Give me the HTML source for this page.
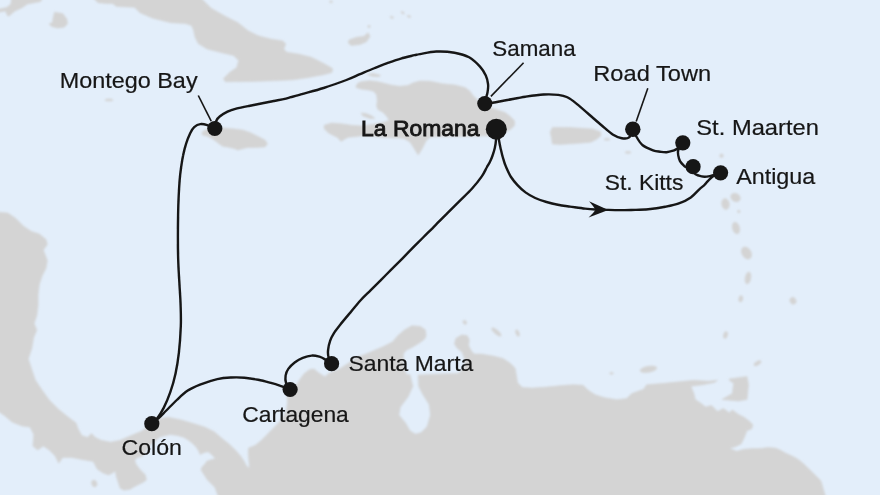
<!DOCTYPE html><html><head><meta charset="utf-8"><style>html,body{margin:0;padding:0;background:#e3eefa;}svg{display:block}</style></head><body>
<svg width="880" height="495" viewBox="0 0 880 495">
<rect width="880" height="495" fill="#e3eefa"/>
<defs><filter id="lb" x="-5%" y="-5%" width="110%" height="110%"><feGaussianBlur stdDeviation="0.8"/></filter></defs>
<g fill="#d4d4d4" stroke="#d4d4d4" stroke-width="0.6" stroke-linejoin="round" filter="url(#lb)">
<path d="M12.3,-6.0 L43.6,-6.0 L40.9,1.4 L38.2,2.0 L27.3,4.1 L22.5,7.5 L15.0,10.9 L8.9,16.1 L7.5,15.7 L5.5,10.9 L-6.0,13.0 L-6.0,10.2 L6.8,7.5 L10.9,4.1Z"/>
<path d="M54.5,12.3 L62.7,13.6 L66.8,19.0 L67.5,23.9 L64.0,27.3 L57.3,28.0 L51.8,26.6 L49.0,23.9 L52.5,22.5 L53.2,17.7Z"/>
<path d="M89.0,-6.0 L98.2,2.7 L107.3,3.6 L112.7,3.6 L116.4,6.4 L134.5,7.3 L140.0,12.7 L152.7,18.2 L170.9,22.7 L185.5,23.6 L191.5,25.5 L193.5,30.0 L195.0,37.0 L198.2,43.6 L207.3,49.1 L221.8,52.7 L233.6,55.5 L238.7,60.5 L236.7,67.5 L229.5,72.6 L223.4,78.7 L225.5,81.8 L252.0,81.4 L272.5,80.8 L293.0,79.8 L307.3,77.7 L323.6,74.7 L331.8,72.6 L332.7,69.0 L331.8,68.0 L323.6,63.4 L311.4,57.3 L299.1,54.2 L286.8,52.2 L283.7,49.1 L285.8,44.0 L282.7,40.9 L270.5,38.9 L258.2,35.8 L248.0,30.7 L237.7,22.5 L225.5,16.4 L211.1,8.2 L196.8,-6.0Z"/>
<path d="M349.0,40.0 L356.4,37.3 L363.6,36.4 L368.2,32.7 L370.0,36.4 L366.4,41.8 L360.0,44.5 L351.0,45.5 L348.2,42.7Z"/>
<path d="M367.0,74.5 L373.0,73.4 L380.5,75.2 L379.0,76.8 L372.0,76.2Z"/>
<path d="M356.0,86.0 L358.2,82.8 L362.4,81.4 L369.5,80.7 L376.6,81.4 L382.2,82.8 L390.7,84.9 L399.2,86.3 L407.7,85.6 L413.4,82.8 L420.0,81.0 L430.0,81.2 L442.5,83.8 L455.0,85.0 L465.0,87.5 L470.0,91.2 L472.5,95.0 L477.5,100.0 L482.5,103.8 L490.0,107.5 L497.5,110.0 L505.0,112.5 L510.0,116.2 L514.6,121.0 L514.6,125.5 L510.7,129.3 L506.8,131.3 L502.5,132.0 L495.0,136.0 L485.0,135.8 L472.5,136.2 L450.0,136.5 L435.0,136.5 L429.5,137.5 L426.0,141.0 L422.0,149.0 L418.2,155.0 L414.5,149.0 L410.0,142.0 L404.0,138.5 L398.6,138.0 L385.0,137.5 L372.5,136.2 L361.0,135.8 L356.8,136.5 L348.3,137.2 L344.0,139.4 L341.2,141.5 L337.0,137.2 L328.5,133.0 L324.2,128.7 L324.2,125.2 L331.3,123.1 L341.2,123.8 L351.1,125.2 L361.0,125.9 L366.7,125.2 L375.0,124.0 L383.0,122.5 L389.3,120.3 L386.5,116.0 L382.2,111.8 L378.0,109.7 L376.6,106.1 L377.3,100.5 L376.6,94.8 L373.7,91.3 L368.1,89.9 L361.0,89.1 L356.0,87.5Z"/>
<path d="M361.0,113.0 L366.0,113.5 L372.0,116.0 L375.0,118.5 L370.0,118.5 L363.0,116.0Z"/>
<path d="M201.9,132.5 L205.0,130.0 L212.5,128.8 L223.8,128.1 L232.5,128.8 L242.5,130.0 L250.0,132.5 L257.5,136.2 L265.0,140.0 L267.5,143.8 L265.0,146.9 L255.0,147.5 L247.5,147.5 L242.5,148.8 L237.5,150.0 L235.0,148.8 L230.0,147.5 L222.5,146.2 L217.5,142.5 L212.5,138.8 L207.5,136.2 L202.5,135.0Z"/>
<path d="M552.4,127.4 L570.0,127.6 L592.3,128.9 L600.4,131.8 L601.1,135.5 L596.7,139.2 L590.8,142.2 L574.5,143.6 L559.8,144.4 L552.4,144.0 L551.5,138.0 L550.2,132.2Z"/>
<path d="M729.3,378.9 L747.0,376.5 L748.5,384.8 L747.0,399.5 L738.2,401.0 L721.9,399.5 L732.3,393.6 L733.7,383.3 L729.3,380.3Z"/>
<path d="M-6.0,211.8 L7.9,213.1 L15.8,218.4 L23.6,226.3 L31.5,231.5 L39.4,234.1 L46.0,239.4 L47.3,244.6 L43.3,249.9 L47.3,260.4 L46.0,268.3 L42.0,276.2 L39.4,284.0 L38.1,294.5 L38.1,305.0 L36.8,315.5 L34.1,323.4 L36.8,330.0 L33.6,337.7 L31.8,348.3 L28.3,358.9 L31.8,369.5 L35.3,380.0 L42.4,390.6 L49.2,400.0 L58.8,409.6 L68.4,417.3 L76.1,423.0 L78.0,428.8 L81.8,435.5 L87.6,437.4 L91.4,433.6 L95.3,437.4 L101.0,440.3 L110.6,442.2 L120.2,440.3 L130.0,436.0 L141.3,431.3 L150.0,425.0 L159.7,418.5 L168.2,417.3 L180.3,419.7 L192.4,423.3 L204.5,427.0 L214.2,431.8 L222.7,439.0 L229.0,444.0 L235.6,450.3 L241.0,456.5 L244.5,462.0 L246.5,466.0 L249.5,468.5 L249.0,462.0 L248.3,454.0 L248.5,448.0 L255.0,445.5 L260.1,441.5 L266.2,435.4 L272.2,429.3 L277.3,424.3 L282.3,418.2 L286.4,410.2 L287.4,403.0 L287.4,395.0 L289.5,390.0 L295.6,386.6 L299.8,379.5 L304.0,373.8 L309.7,369.6 L314.0,368.9 L318.2,372.4 L322.4,375.3 L325.3,376.7 L328.1,373.8 L333.7,371.0 L339.4,369.0 L347.9,363.6 L356.4,357.6 L366.1,353.9 L374.5,350.3 L383.0,346.7 L392.7,341.8 L397.6,335.8 L404.8,329.7 L412.0,325.7 L420.5,326.4 L425.4,329.9 L426.1,335.6 L424.7,338.9 L419.0,343.2 L412.0,347.4 L406.3,350.2 L403.5,353.5 L403.2,360.0 L404.0,368.0 L406.5,374.5 L420.0,375.0 L440.0,374.0 L458.0,373.5 L464.0,368.0 L465.0,360.0 L462.0,352.0 L457.3,348.3 L454.4,344.0 L455.8,338.4 L461.5,334.9 L467.2,335.6 L469.3,339.8 L468.6,345.5 L471.4,351.1 L474.2,354.0 L481.2,354.1 L493.3,356.1 L503.0,358.5 L510.3,363.3 L515.2,368.2 L516.4,375.5 L517.6,382.7 L522.4,387.6 L532.1,388.1 L546.7,387.1 L561.2,385.6 L573.3,384.7 L583.0,385.2 L587.9,390.0 L595.2,394.8 L604.8,397.8 L617.0,399.7 L626.7,398.5 L631.8,393.6 L643.6,389.2 L646.6,384.8 L664.3,383.3 L679.1,381.8 L693.9,380.3 L708.6,381.2 L717.5,380.3 L714.5,382.4 L702.7,384.8 L690.9,386.2 L693.9,393.6 L695.3,399.5 L699.8,402.5 L705.7,406.9 L711.6,405.5 L717.5,411.4 L723.4,408.4 L729.3,412.8 L732.3,409.9 L738.2,414.3 L744.1,417.3 L750.0,421.7 L752.9,424.7 L751.5,429.1 L747.0,430.6 L744.1,437.9 L741.1,443.9 L735.2,446.8 L729.3,448.3 L736.7,451.2 L744.1,449.2 L752.9,448.6 L760.0,448.6 L767.6,447.6 L775.2,448.1 L780.2,450.1 L785.3,453.1 L790.3,455.2 L795.4,457.7 L800.0,460.7 L803.2,463.5 L812.0,471.9 L820.9,480.8 L826.8,501.0 L220.0,501.0 L215.0,487.5 L207.5,480.0 L201.0,470.0 L202.0,467.0 L204.5,464.5 L207.0,461.0 L215.5,458.5 L211.8,454.8 L208.2,451.8 L204.5,452.4 L200.0,454.5 L199.1,451.8 L196.4,447.3 L192.7,443.6 L188.2,440.0 L183.6,437.3 L177.3,435.5 L170.0,434.5 L160.0,437.0 L150.0,445.0 L142.6,456.3 L137.3,457.6 L134.7,460.2 L136.0,464.2 L139.9,469.4 L145.2,474.7 L146.5,479.9 L142.6,482.6 L134.7,486.5 L130.0,489.3 L124.0,490.2 L120.2,488.3 L116.4,476.8 L115.4,471.0 L112.5,472.9 L108.7,474.9 L102.9,472.9 L97.2,469.1 L93.3,461.4 L81.8,459.5 L72.2,457.6 L62.6,457.6 L58.8,463.3 L55.0,455.7 L49.2,449.9 L43.4,446.1 L37.7,449.9 L32.9,446.1 L33.8,434.5 L30.0,427.0 L22.0,426.0 L12.0,422.0 L5.0,416.0 L-6.0,408.3Z"/>
<ellipse cx="331.0" cy="1.8" rx="1.5" ry="1.0" transform="rotate(0 331.0 1.8)"/>
<ellipse cx="369.0" cy="26.4" rx="1.3" ry="1.0" transform="rotate(0 369.0 26.4)"/>
<ellipse cx="391.8" cy="17.3" rx="1.8" ry="0.9" transform="rotate(20 391.8 17.3)"/>
<ellipse cx="402.7" cy="12.7" rx="1.8" ry="0.9" transform="rotate(30 402.7 12.7)"/>
<ellipse cx="409.0" cy="16.4" rx="1.8" ry="0.9" transform="rotate(20 409.0 16.4)"/>
<ellipse cx="109.0" cy="100.0" rx="4.0" ry="1.0" transform="rotate(0 109.0 100.0)"/>
<ellipse cx="607.0" cy="139.4" rx="3.0" ry="0.8" transform="rotate(0 607.0 139.4)"/>
<ellipse cx="628.0" cy="152.4" rx="3.0" ry="0.9" transform="rotate(0 628.0 152.4)"/>
<ellipse cx="721.5" cy="155.8" rx="1.8" ry="1.8" transform="rotate(0 721.5 155.8)"/>
<ellipse cx="725.5" cy="204.0" rx="3.8" ry="5.5" transform="rotate(-10 725.5 204.0)"/>
<ellipse cx="735.5" cy="197.5" rx="5.0" ry="4.0" transform="rotate(30 735.5 197.5)"/>
<ellipse cx="738.8" cy="211.5" rx="1.3" ry="1.3" transform="rotate(0 738.8 211.5)"/>
<ellipse cx="736.0" cy="228.0" rx="3.5" ry="6.0" transform="rotate(-15 736.0 228.0)"/>
<ellipse cx="746.5" cy="253.0" rx="4.5" ry="6.5" transform="rotate(-30 746.5 253.0)"/>
<ellipse cx="748.0" cy="278.0" rx="2.8" ry="6.0" transform="rotate(10 748.0 278.0)"/>
<ellipse cx="740.8" cy="298.8" rx="2.0" ry="3.2" transform="rotate(10 740.8 298.8)"/>
<ellipse cx="793.0" cy="300.8" rx="3.0" ry="3.5" transform="rotate(-30 793.0 300.8)"/>
<ellipse cx="725.5" cy="335.0" rx="2.0" ry="3.5" transform="rotate(15 725.5 335.0)"/>
<ellipse cx="757.5" cy="363.2" rx="4.0" ry="1.8" transform="rotate(-30 757.5 363.2)"/>
<ellipse cx="464.8" cy="322.3" rx="1.6" ry="2.2" transform="rotate(-30 464.8 322.3)"/>
<ellipse cx="496.4" cy="332.0" rx="6.0" ry="2.0" transform="rotate(40 496.4 332.0)"/>
<ellipse cx="517.5" cy="333.0" rx="1.6" ry="3.5" transform="rotate(-20 517.5 333.0)"/>
<ellipse cx="611.5" cy="373.3" rx="2.0" ry="0.9" transform="rotate(0 611.5 373.3)"/>
<ellipse cx="648.5" cy="369.3" rx="8.5" ry="3.0" transform="rotate(-10 648.5 369.3)"/>
<ellipse cx="94.3" cy="483.5" rx="2.6" ry="3.4" transform="rotate(-20 94.3 483.5)"/>
<path d="M410.5,374.0 L417.5,374.0 L418.0,386.2 L421.9,394.0 L428.5,404.6 L429.8,415.0 L426.5,426.5 L421.0,432.0 L415.5,433.5 L410.5,430.5 L406.2,423.0 L399.6,415.0 L400.9,407.2 L408.8,396.7 L413.5,386.2Z" fill="#e3eefa" stroke="#e3eefa"/>
</g>
<defs><filter id="rb" x="-5%" y="-5%" width="110%" height="110%"><feGaussianBlur stdDeviation="0.25"/></filter></defs>
<g filter="url(#rb)">
<g fill="none" stroke="#161616" stroke-width="2.4" stroke-linecap="round" stroke-linejoin="round">
<path d="M497.5,131.0 C497.7,132.5 498.4,137.0 498.9,139.8 C499.4,142.6 499.8,144.9 500.5,147.9 C501.2,150.9 501.9,154.4 502.9,157.6 C503.8,160.8 504.8,164.1 506.2,167.3 C507.6,170.5 509.1,174.0 511.0,177.0 C512.9,180.0 515.1,182.5 517.5,185.1 C519.9,187.7 522.5,190.2 525.5,192.4 C528.5,194.6 531.7,196.4 535.2,198.0 C538.7,199.6 542.7,200.9 546.5,202.0 C550.3,203.1 554.0,204.0 557.9,204.8 C561.8,205.6 565.5,206.0 570.0,206.6 C574.5,207.2 580.8,208.1 585.0,208.6 C589.2,209.1 591.7,209.3 595.5,209.5 C599.3,209.7 603.9,209.8 608.0,209.9 C612.1,210.0 616.1,210.1 620.0,210.1 C623.9,210.1 626.4,210.2 631.1,210.0 C635.8,209.8 642.5,209.7 648.2,209.2 C653.9,208.7 660.1,207.8 665.2,206.8 C670.3,205.8 674.6,205.0 678.9,203.4 C683.2,201.8 687.4,199.8 690.8,197.4 C694.2,195.1 697.0,191.4 699.3,189.3 C701.6,187.2 703.0,186.4 704.4,185.0 C705.8,183.6 706.5,182.4 707.8,181.1 C709.1,179.8 710.1,178.3 712.2,176.9 C714.3,175.5 719.2,173.5 720.6,172.8"/>
<path d="M720.6,172.8 C719.6,173.2 716.2,174.4 714.4,175.0 C712.6,175.6 711.7,175.8 710.0,176.1 C708.3,176.4 706.2,176.8 704.4,176.7 C702.5,176.6 700.6,176.2 698.9,175.6 C697.2,175.0 695.4,174.8 694.4,173.3 C693.4,171.8 693.3,167.8 693.1,166.7"/>
<path d="M693.1,166.7 C692.0,166.8 688.2,167.4 686.7,167.2 C685.2,167.0 685.0,166.6 683.9,165.6 C682.8,164.6 680.9,162.8 680.0,161.1 C679.1,159.4 678.6,157.4 678.3,155.6 C678.0,153.8 677.5,152.1 678.3,150.0 C679.0,147.9 682.0,144.0 682.8,142.8"/>
<path d="M682.8,142.8 C682.0,143.7 679.4,147.0 677.8,148.3 C676.2,149.6 675.1,149.9 673.3,150.6 C671.4,151.2 668.9,152.0 666.7,152.2 C664.5,152.4 662.3,152.0 660.0,151.7 C657.7,151.4 655.9,151.4 653.0,150.3 C650.1,149.2 645.4,147.4 642.7,145.2 C640.0,143.0 638.2,139.7 636.6,137.0 C635.0,134.3 633.4,130.5 632.8,129.2"/>
<path d="M632.8,129.2 C632.2,130.6 630.9,135.9 629.1,137.4 C627.3,138.9 624.5,138.7 621.8,138.2 C619.1,137.7 616.0,136.6 612.7,134.5 C609.4,132.4 605.7,128.8 601.8,125.5 C597.9,122.2 593.3,118.2 589.1,114.5 C584.9,110.8 580.0,106.5 576.4,103.6 C572.8,100.7 570.3,98.8 567.3,97.3 C564.3,95.8 562.2,95.4 558.2,94.9 C554.2,94.4 549.1,94.2 543.6,94.5 C538.1,94.8 531.5,95.8 525.5,96.7 C519.5,97.6 512.8,99.0 507.3,100.0 C501.8,101.0 496.4,102.1 492.7,102.7 C488.9,103.3 486.1,103.4 484.8,103.6"/>
<path d="M484.8,103.6 C485.0,102.5 485.7,99.3 486.2,97.3 C486.7,95.3 487.3,93.9 487.6,91.8 C487.9,89.7 488.4,87.2 488.1,84.5 C487.8,81.8 487.2,78.5 485.8,75.5 C484.4,72.5 482.8,69.6 480.0,66.6 C477.2,63.6 473.4,59.6 469.1,57.3 C464.9,55.0 459.9,53.7 454.5,52.7 C449.1,51.7 442.1,51.3 436.4,51.5 C430.6,51.7 423.6,53.5 420.0,54.1 C416.4,54.7 417.7,54.5 414.5,55.2 C411.3,56.0 405.4,57.3 400.9,58.6 C396.4,59.9 391.9,61.5 387.3,63.1 C382.8,64.8 378.2,66.7 373.6,68.5 C369.1,70.3 364.5,72.3 360.0,74.2 C355.5,76.1 352.5,77.7 346.4,80.0 C340.3,82.3 331.2,85.6 323.6,88.0 C316.0,90.4 307.2,92.6 300.9,94.4 C294.6,96.2 290.5,97.5 286.0,98.6 C281.5,99.7 277.9,100.2 273.8,101.0 C269.6,101.8 265.4,102.7 261.2,103.5 C257.1,104.3 252.9,105.2 248.8,106.0 C244.6,106.8 239.8,107.7 236.2,108.6 C232.7,109.5 230.2,110.3 227.5,111.6 C224.8,112.9 221.9,114.8 220.0,116.3 C218.1,117.8 217.2,118.8 216.3,120.8 C215.4,122.8 215.1,127.2 214.8,128.5"/>
<path d="M214.8,128.5 C213.6,127.9 209.8,125.8 207.4,125.1 C205.0,124.4 202.5,123.8 200.3,124.1 C198.1,124.4 195.9,125.6 194.2,127.1 C192.5,128.6 191.5,130.5 190.2,133.2 C188.9,135.9 187.4,139.6 186.2,143.3 C185.0,147.0 183.9,151.4 183.1,155.4 C182.2,159.4 181.7,163.5 181.1,167.5 C180.5,171.5 180.1,174.9 179.7,179.6 C179.3,184.3 179.0,189.9 178.7,195.8 C178.4,201.7 178.2,208.1 178.1,215.0 C178.0,221.9 177.9,229.4 177.9,237.3 C177.9,245.2 178.0,254.8 178.3,262.7 C178.6,270.6 179.1,277.9 179.5,285.0 C179.9,292.1 180.4,298.1 180.6,305.0 C180.8,311.9 181.1,318.4 180.8,326.3 C180.5,334.2 179.8,344.7 178.9,352.6 C178.0,360.5 176.9,367.1 175.5,373.7 C174.1,380.3 172.3,386.4 170.3,392.1 C168.3,397.8 165.9,403.5 163.7,407.9 C161.5,412.3 159.1,415.8 157.1,418.4 C155.1,421.0 152.7,422.8 151.8,423.7"/>
<path d="M151.8,423.7 C152.9,422.8 156.0,420.6 158.4,418.4 C160.8,416.2 163.2,413.6 166.3,410.5 C169.4,407.4 173.3,403.3 176.8,400.0 C180.3,396.7 183.5,393.4 187.4,390.8 C191.3,388.2 195.0,386.6 200.0,384.6 C205.0,382.7 212.2,380.3 217.3,379.1 C222.5,377.9 226.4,377.7 230.9,377.5 C235.4,377.3 239.9,377.3 244.5,377.7 C249.1,378.1 253.6,378.9 258.2,379.8 C262.8,380.7 267.7,382.1 271.8,383.2 C275.9,384.3 279.6,385.6 282.7,386.6 C285.8,387.7 288.9,389.0 290.1,389.5"/>
<path d="M290.1,389.5 C289.4,388.5 286.9,385.6 286.1,383.3 C285.4,381.0 285.2,378.0 285.6,375.6 C286.0,373.2 286.7,371.1 288.3,368.9 C289.9,366.7 292.6,364.0 295.0,362.2 C297.4,360.4 300.0,358.9 302.8,357.8 C305.6,356.7 308.9,355.8 311.7,355.6 C314.5,355.4 317.2,356.1 319.4,356.7 C321.6,357.3 323.0,358.2 325.0,359.4 C327.0,360.6 330.5,363.0 331.6,363.7"/>
<path d="M331.6,363.7 C331.1,362.6 329.1,359.3 328.5,357.0 C327.9,354.7 327.8,352.7 328.1,350.0 C328.4,347.3 329.1,343.8 330.1,340.9 C331.1,338.0 332.4,335.5 334.1,332.8 C335.8,330.1 337.5,328.1 340.2,324.7 C342.9,321.3 346.9,316.6 350.3,312.6 C353.7,308.6 357.0,304.2 360.4,300.5 C363.8,296.8 367.1,293.8 370.5,290.4 C373.9,287.0 377.2,283.7 380.6,280.3 C384.0,276.9 387.3,273.6 390.7,270.2 C394.1,266.8 397.3,263.6 400.8,260.1 C404.3,256.6 407.7,252.9 411.5,249.1 C415.3,245.2 419.6,241.1 423.6,237.0 C427.7,232.9 431.8,228.9 435.8,224.8 C439.9,220.8 443.9,216.7 447.9,212.7 C451.9,208.7 456.0,204.6 460.0,200.6 C464.0,196.6 468.5,192.5 472.1,188.5 C475.7,184.5 479.3,180.0 481.8,176.4 C484.3,172.8 485.6,169.4 487.0,167.0 C488.4,164.6 489.1,163.5 490.0,161.7 C490.9,159.9 491.6,158.3 492.4,156.0 C493.2,153.7 494.2,150.6 494.8,147.9 C495.4,145.2 495.8,142.9 496.0,139.8 C496.2,136.7 496.2,131.0 496.3,129.2"/>
</g>
<g stroke="#161616" stroke-width="1.6" stroke-linecap="butt">
<line x1="198.3" y1="95.5" x2="211.2" y2="121.2"/>
<line x1="523.6" y1="62.7" x2="490.9" y2="96.4"/>
<line x1="647.8" y1="88.2" x2="636.2" y2="121.5"/>
</g>
<path d="M608.3,210 L589.1,201.3 Q593.5,206.5 595.6,209.7 Q593.5,213 588.6,217.4 Z" fill="#161616"/>
<g fill="#161616">
<circle cx="496.3" cy="129.2" r="10.5"/>
<circle cx="484.8" cy="103.6" r="7.6"/>
<circle cx="632.8" cy="129.2" r="7.7"/>
<circle cx="682.8" cy="142.8" r="7.6"/>
<circle cx="693.1" cy="166.7" r="7.6"/>
<circle cx="720.6" cy="172.8" r="7.6"/>
<circle cx="214.8" cy="128.5" r="7.6"/>
<circle cx="151.8" cy="423.7" r="7.6"/>
<circle cx="290.1" cy="389.5" r="7.6"/>
<circle cx="331.6" cy="363.7" r="7.6"/>
</g>
</g>
<defs><filter id="tb" x="-5%" y="-20%" width="110%" height="140%"><feGaussianBlur stdDeviation="0.25"/></filter></defs>
<g fill="#161616" stroke="#161616" stroke-width="0.20" font-family="Liberation Sans, sans-serif" font-size="22.5" filter="url(#tb)">
<text x="59.7" y="88.0" textLength="137.9" lengthAdjust="spacingAndGlyphs">Montego Bay</text>
<text x="492.3" y="55.7" textLength="83.4" lengthAdjust="spacingAndGlyphs">Samana</text>
<text x="593.3" y="80.9" textLength="117.8" lengthAdjust="spacingAndGlyphs">Road Town</text>
<text x="696.3" y="134.5" textLength="122.6" lengthAdjust="spacingAndGlyphs">St. Maarten</text>
<text x="736.2" y="183.9" textLength="79.1" lengthAdjust="spacingAndGlyphs">Antigua</text>
<text x="604.7" y="190.2" textLength="78.7" lengthAdjust="spacingAndGlyphs">St. Kitts</text>
<text x="348.5" y="371.2" textLength="124.8" lengthAdjust="spacingAndGlyphs">Santa Marta</text>
<text x="242.3" y="422.3" textLength="106.5" lengthAdjust="spacingAndGlyphs">Cartagena</text>
<text x="121.5" y="455.2" textLength="60.4" lengthAdjust="spacingAndGlyphs">Colón</text>
<text x="361.1" y="135.7" textLength="118.5" lengthAdjust="spacingAndGlyphs" stroke-width="0.90">La Romana</text>
</g>
</svg></body></html>
